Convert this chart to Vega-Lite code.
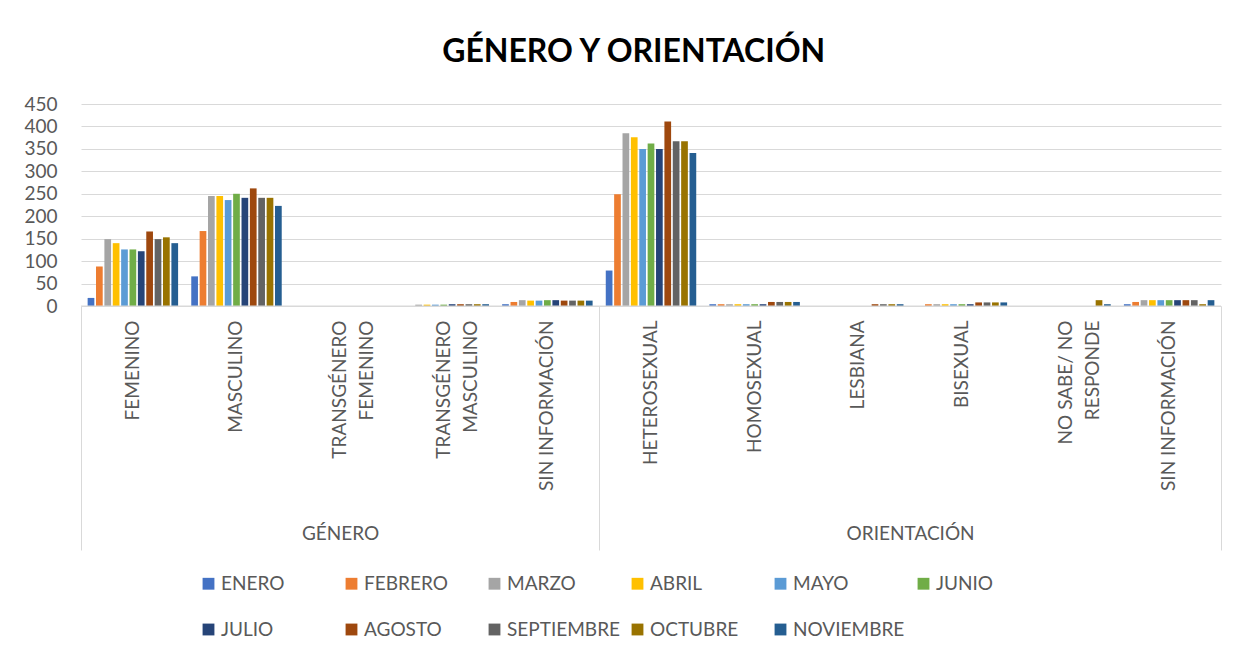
{
  "$schema": "https://vega.github.io/schema/vega-lite/v6.json",
  "width": 1140,
  "height": 202,
  "padding": {"left": 23, "top": 36, "right": 37, "bottom": 5},
  "background": "white",
  "config": {"font": "Lato", "view": {"stroke": null}},
  "title": {"text": "GÉNERO Y ORIENTACIÓN", "fontSize": 32, "font": "Lato", "fontWeight": "bold", "color": "#000000", "anchor": "middle", "frame": "bounds", "dx": 11, "offset": 26},
  "data": {"values": [
    {"categoria": "FEMENINO", "mes": "ENERO", "valor": 18},
    {"categoria": "FEMENINO", "mes": "FEBRERO", "valor": 88},
    {"categoria": "FEMENINO", "mes": "MARZO", "valor": 149},
    {"categoria": "FEMENINO", "mes": "ABRIL", "valor": 140},
    {"categoria": "FEMENINO", "mes": "MAYO", "valor": 126},
    {"categoria": "FEMENINO", "mes": "JUNIO", "valor": 126},
    {"categoria": "FEMENINO", "mes": "JULIO", "valor": 122},
    {"categoria": "FEMENINO", "mes": "AGOSTO", "valor": 166},
    {"categoria": "FEMENINO", "mes": "SEPTIEMBRE", "valor": 149},
    {"categoria": "FEMENINO", "mes": "OCTUBRE", "valor": 153},
    {"categoria": "FEMENINO", "mes": "NOVIEMBRE", "valor": 140},
    {"categoria": "MASCULINO", "mes": "ENERO", "valor": 66},
    {"categoria": "MASCULINO", "mes": "FEBRERO", "valor": 167},
    {"categoria": "MASCULINO", "mes": "MARZO", "valor": 245},
    {"categoria": "MASCULINO", "mes": "ABRIL", "valor": 245},
    {"categoria": "MASCULINO", "mes": "MAYO", "valor": 236},
    {"categoria": "MASCULINO", "mes": "JUNIO", "valor": 250},
    {"categoria": "MASCULINO", "mes": "JULIO", "valor": 241},
    {"categoria": "MASCULINO", "mes": "AGOSTO", "valor": 262},
    {"categoria": "MASCULINO", "mes": "SEPTIEMBRE", "valor": 241},
    {"categoria": "MASCULINO", "mes": "OCTUBRE", "valor": 241},
    {"categoria": "MASCULINO", "mes": "NOVIEMBRE", "valor": 223},
    {"categoria": "TRANSGÉNERO FEMENINO", "mes": "ENERO", "valor": 0},
    {"categoria": "TRANSGÉNERO FEMENINO", "mes": "FEBRERO", "valor": 0},
    {"categoria": "TRANSGÉNERO FEMENINO", "mes": "MARZO", "valor": 0},
    {"categoria": "TRANSGÉNERO FEMENINO", "mes": "ABRIL", "valor": 0},
    {"categoria": "TRANSGÉNERO FEMENINO", "mes": "MAYO", "valor": 0},
    {"categoria": "TRANSGÉNERO FEMENINO", "mes": "JUNIO", "valor": 0},
    {"categoria": "TRANSGÉNERO FEMENINO", "mes": "JULIO", "valor": 0},
    {"categoria": "TRANSGÉNERO FEMENINO", "mes": "AGOSTO", "valor": 0},
    {"categoria": "TRANSGÉNERO FEMENINO", "mes": "SEPTIEMBRE", "valor": 0},
    {"categoria": "TRANSGÉNERO FEMENINO", "mes": "OCTUBRE", "valor": 0},
    {"categoria": "TRANSGÉNERO FEMENINO", "mes": "NOVIEMBRE", "valor": 0},
    {"categoria": "TRANSGÉNERO MASCULINO", "mes": "ENERO", "valor": 0},
    {"categoria": "TRANSGÉNERO MASCULINO", "mes": "FEBRERO", "valor": 0},
    {"categoria": "TRANSGÉNERO MASCULINO", "mes": "MARZO", "valor": 3},
    {"categoria": "TRANSGÉNERO MASCULINO", "mes": "ABRIL", "valor": 3},
    {"categoria": "TRANSGÉNERO MASCULINO", "mes": "MAYO", "valor": 3},
    {"categoria": "TRANSGÉNERO MASCULINO", "mes": "JUNIO", "valor": 3},
    {"categoria": "TRANSGÉNERO MASCULINO", "mes": "JULIO", "valor": 4},
    {"categoria": "TRANSGÉNERO MASCULINO", "mes": "AGOSTO", "valor": 4},
    {"categoria": "TRANSGÉNERO MASCULINO", "mes": "SEPTIEMBRE", "valor": 4},
    {"categoria": "TRANSGÉNERO MASCULINO", "mes": "OCTUBRE", "valor": 4},
    {"categoria": "TRANSGÉNERO MASCULINO", "mes": "NOVIEMBRE", "valor": 4},
    {"categoria": "SIN INFORMACIÓN (GÉNERO)", "mes": "ENERO", "valor": 4},
    {"categoria": "SIN INFORMACIÓN (GÉNERO)", "mes": "FEBRERO", "valor": 9},
    {"categoria": "SIN INFORMACIÓN (GÉNERO)", "mes": "MARZO", "valor": 13},
    {"categoria": "SIN INFORMACIÓN (GÉNERO)", "mes": "ABRIL", "valor": 12},
    {"categoria": "SIN INFORMACIÓN (GÉNERO)", "mes": "MAYO", "valor": 12},
    {"categoria": "SIN INFORMACIÓN (GÉNERO)", "mes": "JUNIO", "valor": 13},
    {"categoria": "SIN INFORMACIÓN (GÉNERO)", "mes": "JULIO", "valor": 13},
    {"categoria": "SIN INFORMACIÓN (GÉNERO)", "mes": "AGOSTO", "valor": 12},
    {"categoria": "SIN INFORMACIÓN (GÉNERO)", "mes": "SEPTIEMBRE", "valor": 12},
    {"categoria": "SIN INFORMACIÓN (GÉNERO)", "mes": "OCTUBRE", "valor": 12},
    {"categoria": "SIN INFORMACIÓN (GÉNERO)", "mes": "NOVIEMBRE", "valor": 12},
    {"categoria": "HETEROSEXUAL", "mes": "ENERO", "valor": 79},
    {"categoria": "HETEROSEXUAL", "mes": "FEBRERO", "valor": 249},
    {"categoria": "HETEROSEXUAL", "mes": "MARZO", "valor": 385},
    {"categoria": "HETEROSEXUAL", "mes": "ABRIL", "valor": 376},
    {"categoria": "HETEROSEXUAL", "mes": "MAYO", "valor": 350},
    {"categoria": "HETEROSEXUAL", "mes": "JUNIO", "valor": 362},
    {"categoria": "HETEROSEXUAL", "mes": "JULIO", "valor": 350},
    {"categoria": "HETEROSEXUAL", "mes": "AGOSTO", "valor": 411},
    {"categoria": "HETEROSEXUAL", "mes": "SEPTIEMBRE", "valor": 367},
    {"categoria": "HETEROSEXUAL", "mes": "OCTUBRE", "valor": 367},
    {"categoria": "HETEROSEXUAL", "mes": "NOVIEMBRE", "valor": 341},
    {"categoria": "HOMOSEXUAL", "mes": "ENERO", "valor": 4},
    {"categoria": "HOMOSEXUAL", "mes": "FEBRERO", "valor": 4},
    {"categoria": "HOMOSEXUAL", "mes": "MARZO", "valor": 4},
    {"categoria": "HOMOSEXUAL", "mes": "ABRIL", "valor": 4},
    {"categoria": "HOMOSEXUAL", "mes": "MAYO", "valor": 4},
    {"categoria": "HOMOSEXUAL", "mes": "JUNIO", "valor": 4},
    {"categoria": "HOMOSEXUAL", "mes": "JULIO", "valor": 4},
    {"categoria": "HOMOSEXUAL", "mes": "AGOSTO", "valor": 9},
    {"categoria": "HOMOSEXUAL", "mes": "SEPTIEMBRE", "valor": 9},
    {"categoria": "HOMOSEXUAL", "mes": "OCTUBRE", "valor": 9},
    {"categoria": "HOMOSEXUAL", "mes": "NOVIEMBRE", "valor": 9},
    {"categoria": "LESBIANA", "mes": "ENERO", "valor": 0},
    {"categoria": "LESBIANA", "mes": "FEBRERO", "valor": 0},
    {"categoria": "LESBIANA", "mes": "MARZO", "valor": 0},
    {"categoria": "LESBIANA", "mes": "ABRIL", "valor": 0},
    {"categoria": "LESBIANA", "mes": "MAYO", "valor": 0},
    {"categoria": "LESBIANA", "mes": "JUNIO", "valor": 0},
    {"categoria": "LESBIANA", "mes": "JULIO", "valor": 0},
    {"categoria": "LESBIANA", "mes": "AGOSTO", "valor": 4},
    {"categoria": "LESBIANA", "mes": "SEPTIEMBRE", "valor": 4},
    {"categoria": "LESBIANA", "mes": "OCTUBRE", "valor": 4},
    {"categoria": "LESBIANA", "mes": "NOVIEMBRE", "valor": 4},
    {"categoria": "BISEXUAL", "mes": "ENERO", "valor": 0},
    {"categoria": "BISEXUAL", "mes": "FEBRERO", "valor": 4},
    {"categoria": "BISEXUAL", "mes": "MARZO", "valor": 4},
    {"categoria": "BISEXUAL", "mes": "ABRIL", "valor": 4},
    {"categoria": "BISEXUAL", "mes": "MAYO", "valor": 4},
    {"categoria": "BISEXUAL", "mes": "JUNIO", "valor": 4},
    {"categoria": "BISEXUAL", "mes": "JULIO", "valor": 4},
    {"categoria": "BISEXUAL", "mes": "AGOSTO", "valor": 8},
    {"categoria": "BISEXUAL", "mes": "SEPTIEMBRE", "valor": 8},
    {"categoria": "BISEXUAL", "mes": "OCTUBRE", "valor": 8},
    {"categoria": "BISEXUAL", "mes": "NOVIEMBRE", "valor": 8},
    {"categoria": "NO SABE/ NO RESPONDE", "mes": "ENERO", "valor": 0},
    {"categoria": "NO SABE/ NO RESPONDE", "mes": "FEBRERO", "valor": 0},
    {"categoria": "NO SABE/ NO RESPONDE", "mes": "MARZO", "valor": 0},
    {"categoria": "NO SABE/ NO RESPONDE", "mes": "ABRIL", "valor": 0},
    {"categoria": "NO SABE/ NO RESPONDE", "mes": "MAYO", "valor": 0},
    {"categoria": "NO SABE/ NO RESPONDE", "mes": "JUNIO", "valor": 0},
    {"categoria": "NO SABE/ NO RESPONDE", "mes": "JULIO", "valor": 0},
    {"categoria": "NO SABE/ NO RESPONDE", "mes": "AGOSTO", "valor": 0},
    {"categoria": "NO SABE/ NO RESPONDE", "mes": "SEPTIEMBRE", "valor": 0},
    {"categoria": "NO SABE/ NO RESPONDE", "mes": "OCTUBRE", "valor": 13},
    {"categoria": "NO SABE/ NO RESPONDE", "mes": "NOVIEMBRE", "valor": 4},
    {"categoria": "SIN INFORMACIÓN (ORIENTACIÓN)", "mes": "ENERO", "valor": 4},
    {"categoria": "SIN INFORMACIÓN (ORIENTACIÓN)", "mes": "FEBRERO", "valor": 9},
    {"categoria": "SIN INFORMACIÓN (ORIENTACIÓN)", "mes": "MARZO", "valor": 13},
    {"categoria": "SIN INFORMACIÓN (ORIENTACIÓN)", "mes": "ABRIL", "valor": 13},
    {"categoria": "SIN INFORMACIÓN (ORIENTACIÓN)", "mes": "MAYO", "valor": 13},
    {"categoria": "SIN INFORMACIÓN (ORIENTACIÓN)", "mes": "JUNIO", "valor": 13},
    {"categoria": "SIN INFORMACIÓN (ORIENTACIÓN)", "mes": "JULIO", "valor": 13},
    {"categoria": "SIN INFORMACIÓN (ORIENTACIÓN)", "mes": "AGOSTO", "valor": 13},
    {"categoria": "SIN INFORMACIÓN (ORIENTACIÓN)", "mes": "SEPTIEMBRE", "valor": 13},
    {"categoria": "SIN INFORMACIÓN (ORIENTACIÓN)", "mes": "OCTUBRE", "valor": 4},
    {"categoria": "SIN INFORMACIÓN (ORIENTACIÓN)", "mes": "NOVIEMBRE", "valor": 13}
  ]},
  "layer": [
    {
      "mark": {"type": "bar"},
      "encoding": {
        "x": {
          "field": "categoria", "type": "nominal",
          "sort": ["FEMENINO", "MASCULINO", "TRANSGÉNERO FEMENINO", "TRANSGÉNERO MASCULINO", "SIN INFORMACIÓN (GÉNERO)", "HETEROSEXUAL", "HOMOSEXUAL", "LESBIANA", "BISEXUAL", "NO SABE/ NO RESPONDE", "SIN INFORMACIÓN (ORIENTACIÓN)"],
          "scale": {"paddingInner": 0.127, "paddingOuter": 0.064},
          "axis": {
            "title": null, "orient": "bottom", "labelAngle": -90, "ticks": false, "domain": false,
            "labelPadding": 14, "labelFontSize": 19, "labelColor": "#595959", "labelOverlap": false,
            "labelLineHeight": 27, "labelLimit": 300,
            "labelExpr": "datum.label == 'TRANSGÉNERO FEMENINO' ? ['TRANSGÉNERO', 'FEMENINO'] : datum.label == 'TRANSGÉNERO MASCULINO' ? ['TRANSGÉNERO', 'MASCULINO'] : datum.label == 'NO SABE/ NO RESPONDE' ? ['NO SABE/ NO', 'RESPONDE'] : indexof(datum.label, 'SIN INFORMACIÓN') == 0 ? 'SIN INFORMACIÓN' : datum.label"
          }
        },
        "xOffset": {
          "field": "mes", "type": "nominal",
          "sort": ["ENERO", "FEBRERO", "MARZO", "ABRIL", "MAYO", "JUNIO", "JULIO", "AGOSTO", "SEPTIEMBRE", "OCTUBRE", "NOVIEMBRE"],
          "scale": {"paddingInner": 0.2, "paddingOuter": 0}
        },
        "y": {
          "field": "valor", "type": "quantitative",
          "scale": {"domain": [0, 450], "nice": false},
          "axis": {
            "title": null, "values": [0, 50, 100, 150, 200, 250, 300, 350, 400, 450],
            "domain": false, "ticks": false, "grid": true, "gridColor": "#D9D9D9",
            "labelOverlap": false, "labelBound": false,
            "labelPadding": 24, "labelFontSize": 19, "labelColor": "#595959"
          }
        },
        "color": {
          "field": "mes", "type": "nominal",
          "sort": ["ENERO", "FEBRERO", "MARZO", "ABRIL", "MAYO", "JUNIO", "JULIO", "AGOSTO", "SEPTIEMBRE", "OCTUBRE", "NOVIEMBRE"],
          "scale": {
            "domain": ["ENERO", "FEBRERO", "MARZO", "ABRIL", "MAYO", "JUNIO", "JULIO", "AGOSTO", "SEPTIEMBRE", "OCTUBRE", "NOVIEMBRE"],
            "range": ["#4472C4", "#ED7D31", "#A5A5A5", "#FFC000", "#5B9BD5", "#70AD47", "#264478", "#9E480E", "#636363", "#997300", "#255E91"]
          },
          "legend": {
            "title": null, "orient": "none", "legendX": 118, "legendY": 470,
            "direction": "horizontal", "columns": 6,
            "symbolType": "square", "symbolSize": 140, "symbolStrokeWidth": 0,
            "labelFontSize": 19, "labelColor": "#595959", "labelOffset": 3,
            "gridAlign": "all", "columnPadding": 7, "rowPadding": 26
          }
        }
      }
    },
    {
      "data": {"values": [
        {"grupo": "GÉNERO", "inicio": 0, "fin": 5},
        {"grupo": "ORIENTACIÓN", "inicio": 5, "fin": 11}
      ]},
      "mark": {"type": "rule", "color": "#D9D9D9", "strokeWidth": 1},
      "encoding": {
        "x": {
          "field": "inicio", "type": "quantitative",
          "scale": {"domain": [0, 11], "nice": false, "zero": false},
          "axis": {
            "title": null, "orient": "bottom", "values": [0, 2.5, 5, 8, 11],
            "domain": false, "grid": false, "tickSize": 244, "tickColor": "#D9D9D9",
            "tickOpacity": {"condition": {"test": "datum.value == 2.5 || datum.value == 8", "value": 0}, "value": 1},
            "labelPadding": -26, "labelFontSize": 19, "labelColor": "#595959", "labelOverlap": false,
            "labelExpr": "datum.value == 2.5 ? 'GÉNERO' : datum.value == 8 ? 'ORIENTACIÓN' : ''"
          }
        },
        "x2": {"field": "fin"},
        "y": {
          "datum": 0,
          "axis": {
            "title": null, "values": [0, 50, 100, 150, 200, 250, 300, 350, 400, 450],
            "domain": false, "ticks": false, "grid": true, "gridColor": "#D9D9D9",
            "labelOverlap": false, "labelBound": false,
            "labelPadding": 24, "labelFontSize": 19, "labelColor": "#595959"
          }
        }
      }
    }
  ],
  "resolve": {"scale": {"x": "independent"}, "axis": {"x": "independent"}}
}
